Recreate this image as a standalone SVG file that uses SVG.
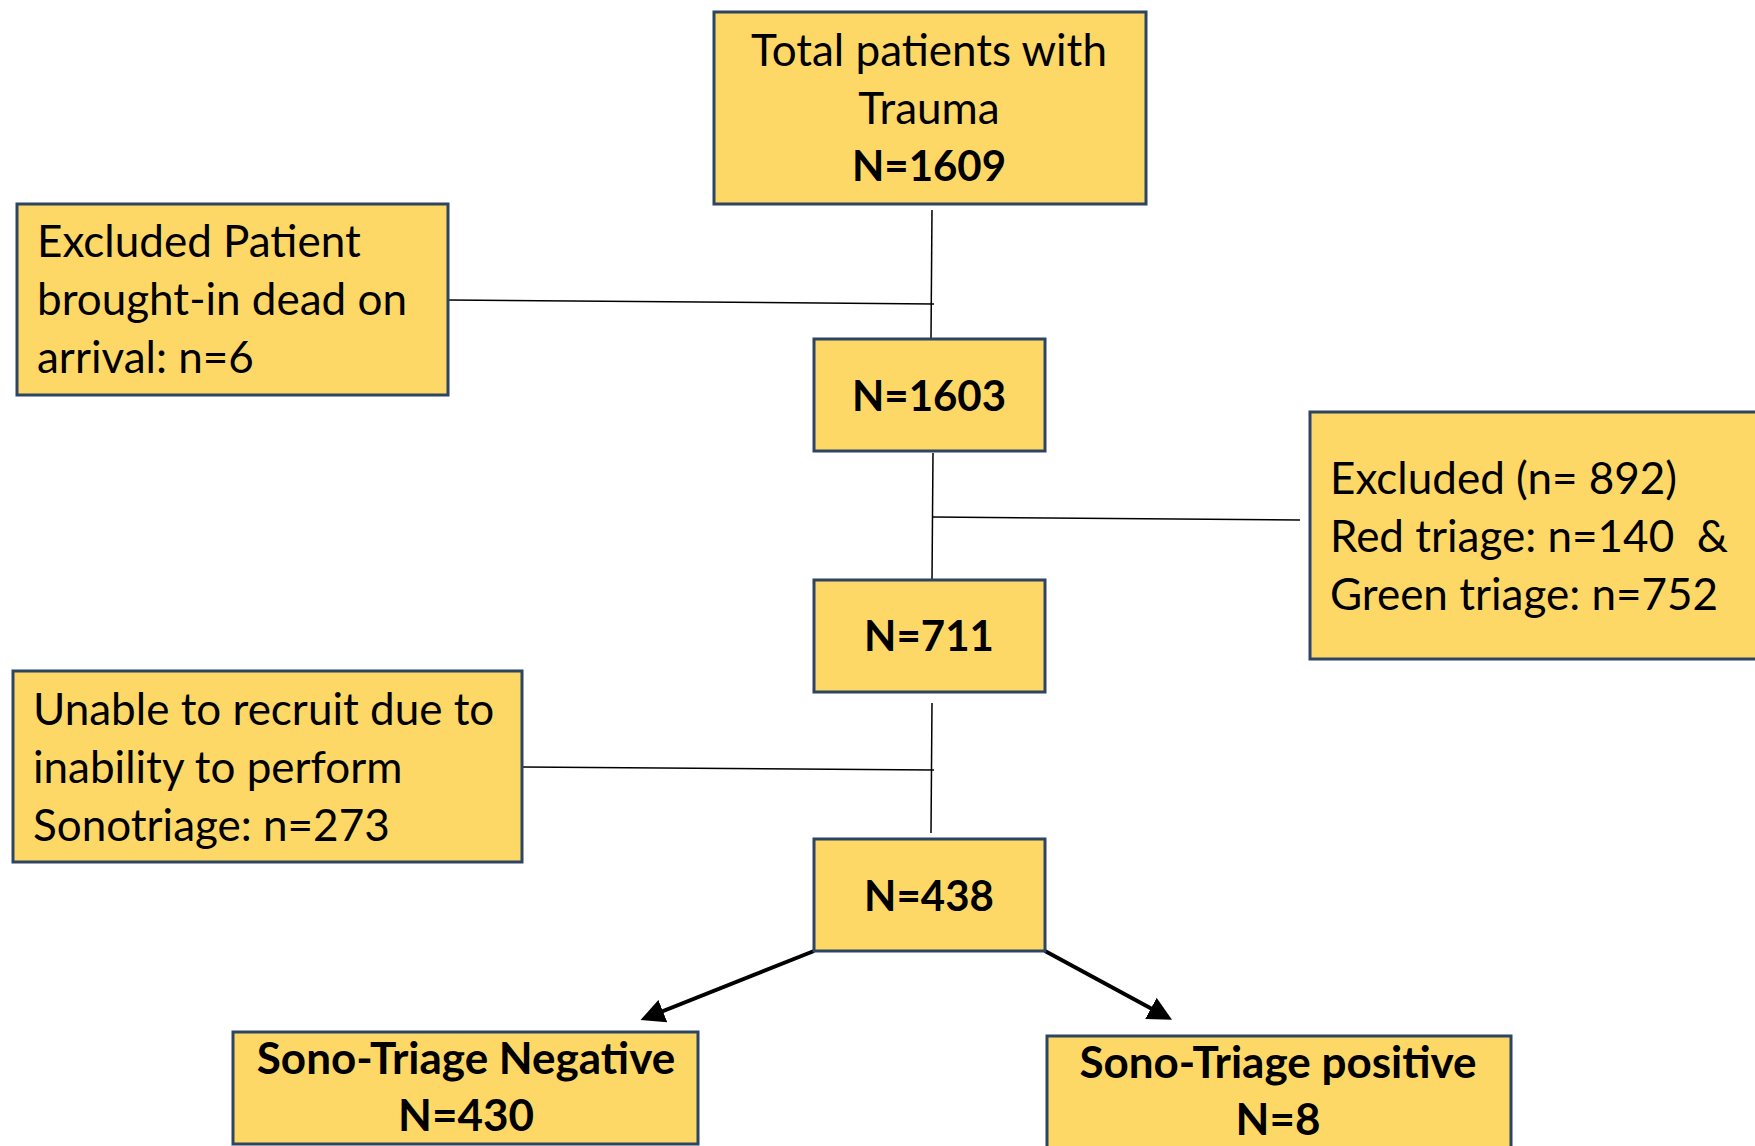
<svg xmlns="http://www.w3.org/2000/svg" width="1755" height="1146" viewBox="0 0 1755 1146">
<style>
.box{fill:#FED866;stroke:#2C4562;stroke-width:3}
.t{font-family:Lato,"Open Sans","Liberation Sans",sans-serif;font-size:44px;fill:#000}
.c{text-anchor:middle}
.b{font-weight:bold;font-size:42px}
.s{font-size:44px}
.ln{stroke:#000;stroke-width:1.5;fill:none}
.ar{stroke:#000;stroke-width:4;fill:none}
</style>
<defs>
<marker id="ah" markerWidth="6" markerHeight="6" refX="4" refY="3" orient="auto" markerUnits="strokeWidth">
<path d="M0,0 L6,3 L0,6 Z" fill="#000"/>
</marker>
</defs>
<g id="connectors">
<line class="ln" x1="932" y1="210" x2="931" y2="338"/>
<line class="ln" x1="448" y1="300" x2="934" y2="304"/>
<line class="ln" x1="933" y1="453" x2="932" y2="579"/>
<line class="ln" x1="933" y1="517" x2="1300" y2="520"/>
<line class="ln" x1="932" y1="703" x2="931" y2="833"/>
<line class="ln" x1="523" y1="767" x2="934" y2="770"/>
<line class="ar" x1="814" y1="951" x2="648" y2="1017" marker-end="url(#ah)"/>
<line class="ar" x1="1045" y1="951" x2="1165" y2="1016" marker-end="url(#ah)"/>
</g>
<g id="total">
<rect class="box" x="714" y="12" width="432" height="192"/>
<text class="t c" x="929" y="66">Total patients with</text>
<text class="t c" x="929" y="124">Trauma</text>
<text class="t c b" x="929" y="181">N=1609</text>
</g>
<g id="excluded-dead">
<rect class="box" x="17" y="204" width="431" height="191"/>
<text class="t" x="37" y="257">Excluded Patient</text>
<text class="t" x="37" y="315">brought-in dead on</text>
<text class="t" x="37" y="373">arrival: n=6</text>
</g>
<g id="n1603">
<rect class="box" x="814" y="339" width="231" height="112"/>
<text class="t c b" x="929" y="411">N=1603</text>
</g>
<g id="excluded-triage">
<rect class="box" x="1310" y="412" width="450" height="247"/>
<text class="t" x="1330" y="494">Excluded (n= 892)</text>
<text class="t" x="1330" y="552" xml:space="preserve">Red triage: n=140  &amp;</text>
<text class="t" x="1330" y="610">Green triage: n=752</text>
</g>
<g id="n711">
<rect class="box" x="814" y="580" width="231" height="112"/>
<text class="t c b" x="929" y="651">N=711</text>
</g>
<g id="unable">
<rect class="box" x="13" y="671" width="509" height="191"/>
<text class="t" x="33" y="725">Unable to recruit due to</text>
<text class="t" x="33" y="783">inability to perform</text>
<text class="t" x="33" y="841">Sonotriage: n=273</text>
</g>
<g id="n438">
<rect class="box" x="814" y="839" width="231" height="112"/>
<text class="t c b" x="929" y="911">N=438</text>
</g>
<g id="sono-neg">
<rect class="box" x="233" y="1032" width="465" height="112"/>
<text class="t c b s" x="466" y="1074">Sono-Triage Negative</text>
<text class="t c b s" x="466" y="1131">N=430</text>
</g>
<g id="sono-pos">
<rect class="box" x="1047" y="1036" width="464" height="115"/>
<text class="t c b s" x="1278" y="1078">Sono-Triage positive</text>
<text class="t c b s" x="1278" y="1135">N=8</text>
</g>
</svg>
